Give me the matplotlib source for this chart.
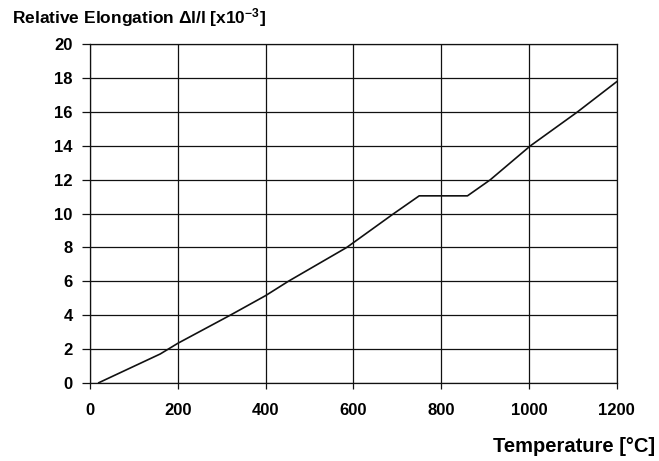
import matplotlib.pyplot as plt

# Data
temperature = [20, 160, 200, 320, 400, 452, 585, 692, 750, 860, 912, 1003, 1110, 1200]
elongation = [0, 1.7, 2.33, 4.0, 5.15, 6.0, 8.0, 10.0, 11.05, 11.05, 12.0, 14.0, 16.0, 17.8]

x_ticks = [0, 200, 400, 600, 800, 1000, 1200]
y_ticks = [0, 2, 4, 6, 8, 10, 12, 14, 16, 18, 20]

plt.rcParams['font.family'] = 'Liberation Sans'
plt.rcParams['font.weight'] = 'bold'
plt.rcParams['mathtext.fontset'] = 'custom'
plt.rcParams['mathtext.rm'] = 'Liberation Sans:bold'
plt.rcParams['mathtext.bf'] = 'Liberation Sans:bold'
plt.rcParams['mathtext.it'] = 'Liberation Sans:bold'

fig = plt.figure(figsize=(6.59, 4.61), dpi=100)
ax = fig.add_axes([0.1366, 0.1698, 0.7992, 0.7337])

ax.plot(temperature, elongation, color='#111111', lw=1.2)

ax.set_xlim(0, 1200)
ax.set_ylim(0, 20)
ax.set_xticks(x_ticks)
ax.set_yticks(y_ticks)
ax.grid(True, color='#111111', lw=0.9)
ax.set_axisbelow(True)
for s in ax.spines.values():
    s.set_color('#111111')
    s.set_linewidth(0.9)
ax.tick_params(axis='both', width=0.9, color='#111111', labelsize=12)
ax.tick_params(axis='x', length=4.5, pad=10)
ax.tick_params(axis='y', length=6, pad=6.5)

# axis titles placed like the original
fig.text(12 / 659, 1 - 18 / 461, 'Relative Elongation \u0394l/l [x10$^{-3}$]',
         fontsize=12.5, fontweight='bold', ha='left', va='center')
fig.text(655 / 659, 1 - 446 / 461, 'Temperature [\u00b0C]',
         fontsize=14.5, fontweight='bold', ha='right', va='center')

fig.savefig('out.png', dpi=100)
